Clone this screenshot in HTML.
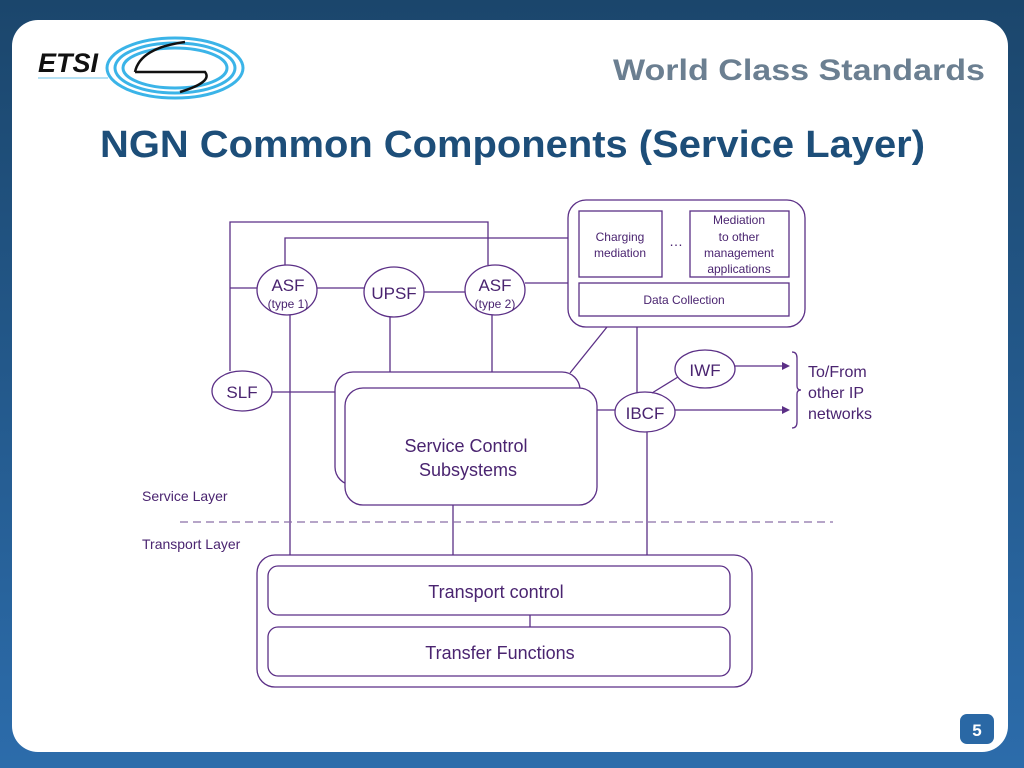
<!DOCTYPE html>
<html><head><meta charset="utf-8"><style>
html,body{margin:0;padding:0;width:1024px;height:768px;overflow:hidden}
svg{display:block}
text{font-family:"Liberation Sans",sans-serif}
</style></head><body>
<svg width="1024" height="768" viewBox="0 0 1024 768">
<defs>
<linearGradient id="bg" x1="0" y1="0" x2="0" y2="1">
<stop offset="0" stop-color="#1b466c"/><stop offset="1" stop-color="#2c6cab"/>
</linearGradient>
</defs>
<rect width="1024" height="768" fill="url(#bg)"/>
<rect x="12" y="20" width="996" height="732" rx="26" fill="#fff"/>
<!-- logo -->
<text x="38" y="72" font-size="27" font-weight="bold" font-style="italic" fill="#111">ETSI</text>
<line x1="38" y1="78" x2="108" y2="78" stroke="#6cc3ea" stroke-width="1"/>
<g fill="none" stroke="#3bb4e8" stroke-width="3">
<ellipse cx="175" cy="68" rx="68" ry="30"/>
<ellipse cx="175" cy="68" rx="60" ry="25"/>
<ellipse cx="175" cy="68" rx="52" ry="20"/>
</g>
<ellipse cx="175" cy="68" rx="45" ry="17" fill="#fff"/>
<path d="M135 72 Q140 48 185 42 M135 72 L205 72 Q213 82 180 92" fill="none" stroke="#111" stroke-width="2.5"/>
<text x="613" y="80" font-size="30" font-weight="bold" fill="#6b7f91" textLength="372" lengthAdjust="spacingAndGlyphs">World Class Standards</text>
<text x="100" y="157" font-size="38" font-weight="bold" fill="#1d4e79" textLength="825" lengthAdjust="spacingAndGlyphs">NGN Common Components (Service Layer)</text>
<rect x="960" y="714" width="34" height="30" rx="7" fill="#2a68a5"/>
<text x="977" y="736" font-size="17" font-weight="bold" fill="#fff" text-anchor="middle">5</text>

<g fill="none" stroke="#5b2f86" stroke-width="1.3">
<rect x="568" y="200" width="237" height="127" rx="18"/>
<rect x="579" y="211" width="83" height="66"/>
<rect x="690" y="211" width="99" height="66"/>
<rect x="579" y="283" width="210" height="33"/>
<ellipse cx="287" cy="290" rx="30" ry="25"/>
<ellipse cx="394" cy="292" rx="30" ry="25"/>
<ellipse cx="495" cy="290" rx="30" ry="25"/>
<ellipse cx="242" cy="391" rx="30" ry="20"/>
<ellipse cx="705" cy="369" rx="30" ry="19"/>
<ellipse cx="645" cy="412" rx="30" ry="20"/>
<polyline points="230,371 230,222 488,222 488,265"/>
<polyline points="285,265 285,238 568,238"/>
<line x1="230" y1="288" x2="257" y2="288"/>
<line x1="317" y1="288" x2="364" y2="288"/>
<line x1="424" y1="292" x2="465" y2="292"/>
<line x1="525" y1="283" x2="568" y2="283"/>
<line x1="290" y1="315" x2="290" y2="555"/>
<line x1="390" y1="317" x2="390" y2="372"/>
<line x1="492" y1="315" x2="492" y2="372"/>
<line x1="607" y1="327" x2="570" y2="373"/>
<line x1="637" y1="327" x2="637" y2="393"/>
<line x1="652" y1="393" x2="678" y2="377"/>
<line x1="735" y1="366" x2="785" y2="366"/>
<line x1="675" y1="410" x2="785" y2="410"/>
<path d="M792 352 Q797 352 797 358 L797 386 Q797 390 801 390 Q797 390 797 394 L797 422 Q797 428 792 428"/>
<line x1="272" y1="392" x2="335" y2="392"/>
<rect x="335" y="372" width="245" height="113" rx="18" fill="#fff"/>
<rect x="345" y="388" width="252" height="117" rx="18" fill="#fff"/>
<line x1="597" y1="410" x2="615" y2="410"/>
<line x1="453" y1="505" x2="453" y2="555"/>
<line x1="647" y1="432" x2="647" y2="555"/>
<line x1="180" y1="522" x2="833" y2="522" stroke-dasharray="8,5" stroke="#8a6fa6"/>
<rect x="257" y="555" width="495" height="132" rx="18"/>
<rect x="268" y="566" width="462" height="49" rx="10"/>
<rect x="268" y="627" width="462" height="49" rx="10"/>
<line x1="530" y1="615" x2="530" y2="627"/>
</g>
<g fill="#5b2f86">
<polygon points="790,366 782,362 782,370"/>
<polygon points="790,410 782,406 782,414"/>
</g>
<g fill="#4a2470" text-anchor="middle">
<text x="620" y="241" font-size="12">Charging</text>
<text x="620" y="257" font-size="12">mediation</text>
<text x="676" y="246" font-size="14">…</text>
<text x="739" y="224" font-size="12">Mediation</text>
<text x="739" y="241" font-size="12">to other</text>
<text x="739" y="257" font-size="12">management</text>
<text x="739" y="273" font-size="12">applications</text>
<text x="684" y="304" font-size="12">Data Collection</text>
<text x="288" y="291" font-size="17">ASF</text>
<text x="288" y="308" font-size="12">(type 1)</text>
<text x="394" y="299" font-size="17">UPSF</text>
<text x="495" y="291" font-size="17">ASF</text>
<text x="495" y="308" font-size="12">(type 2)</text>
<text x="242" y="398" font-size="17">SLF</text>
<text x="705" y="376" font-size="17">IWF</text>
<text x="645" y="419" font-size="17">IBCF</text>
<text x="466" y="452" font-size="18">Service Control</text>
<text x="468" y="476" font-size="18">Subsystems</text>
<text x="496" y="598" font-size="18">Transport control</text>
<text x="500" y="659" font-size="18">Transfer Functions</text>
</g>
<g fill="#4a2470" font-size="16">
<text x="808" y="377">To/From</text>
<text x="808" y="398">other IP</text>
<text x="808" y="419">networks</text>
<text x="142" y="501" font-size="14">Service Layer</text>
<text x="142" y="549" font-size="14">Transport Layer</text>
</g>
</svg>
</body></html>
